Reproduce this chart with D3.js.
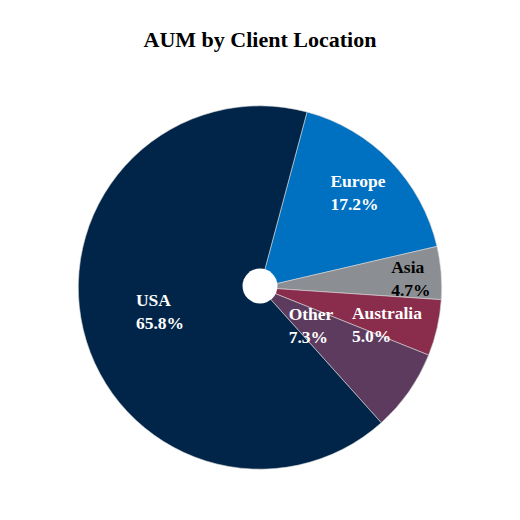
<!DOCTYPE html>
<html>
<head>
<meta charset="utf-8">
<script src="https://cdn.jsdelivr.net/npm/d3@7"></script>
<style>
  html, body { margin: 0; padding: 0; background: #fff; }
  svg { display: block; }
</style>
</head>
<body>
<svg id="chart" width="520" height="520"></svg>
<script>
// ---- data ----
const categories = ["Europe", "Asia", "Australia", "Other", "USA"];
const values = [17.2, 4.7, 5.0, 7.3, 65.8];
const title = "AUM by Client Location";

// ---- style / layout ----
const colors = {
  "Europe": "#0070C0",
  "Asia": "#8B8E92",
  "Australia": "#8A2C4B",
  "Other": "#5D3B5E",
  "USA": "#012548"
};
const labelColors = { "Asia": "#000000" };
// label placement: [radius fraction, angle in degrees clockwise from top]
const labelLayout = {
  "Europe": [0.761, 45.1],
  "Asia": [0.833, 85.6],
  "Australia": [0.724, 105.2],
  "Other": [0.342, 124.8],
  "USA": [0.563, 257.9]
};

const svg = d3.select("#chart");
const cx = 260, cy = 287.5, R = 181.7, holeR = 17.5;

svg.append("text")
  .attr("x", 260).attr("y", 47)
  .attr("text-anchor", "middle")
  .attr("font-family", "'Liberation Serif', 'Times New Roman', serif")
  .attr("font-weight", "bold")
  .attr("font-size", 22)
  .attr("fill", "#000")
  .text(title);

const startDeg = 15;
const pie = d3.pie()
  .sort(null)
  .value(d => d.value)
  .startAngle(startDeg * Math.PI / 180)
  .endAngle((startDeg + 360) * Math.PI / 180);

const data = categories.map((c, i) => ({ name: c, value: values[i] }));
const arcs = pie(data);
const arc = d3.arc().innerRadius(0).outerRadius(R);

const g = svg.append("g").attr("transform", `translate(${cx},${cy})`);

g.selectAll("path.slice")
  .data(arcs)
  .enter().append("path")
  .attr("class", "slice")
  .attr("d", arc)
  .attr("fill", d => colors[d.data.name])
  .attr("stroke", "#d9d9d9")
  .attr("stroke-width", 0.6);

g.append("circle")
  .attr("cx", 0).attr("cy", -1.5)
  .attr("r", holeR)
  .attr("fill", "#fff");

g.selectAll("text.lbl")
  .data(arcs)
  .enter().append("text")
  .attr("class", "lbl")
  .attr("font-family", "'Liberation Serif', 'Times New Roman', serif")
  .attr("font-weight", "bold")
  .attr("font-size", 17.5)
  .attr("fill", d => labelColors[d.data.name] || "#ffffff")
  .each(function(d) {
    const [rf, deg] = labelLayout[d.data.name];
    const a = deg * Math.PI / 180;
    const x = Math.sin(a) * R * rf;
    const y = -Math.cos(a) * R * rf;
    const t = d3.select(this);
    const l1 = t.append("tspan").attr("y", y - 3).text(d.data.name);
    const l2 = t.append("tspan").attr("y", y + 20).text(d3.format(".1f")(d.data.value) + "%");
    const w = Math.max(l1.node().getComputedTextLength(), l2.node().getComputedTextLength());
    l1.attr("x", x - w / 2);
    l2.attr("x", x - w / 2);
  });
</script>
</body>
</html>
